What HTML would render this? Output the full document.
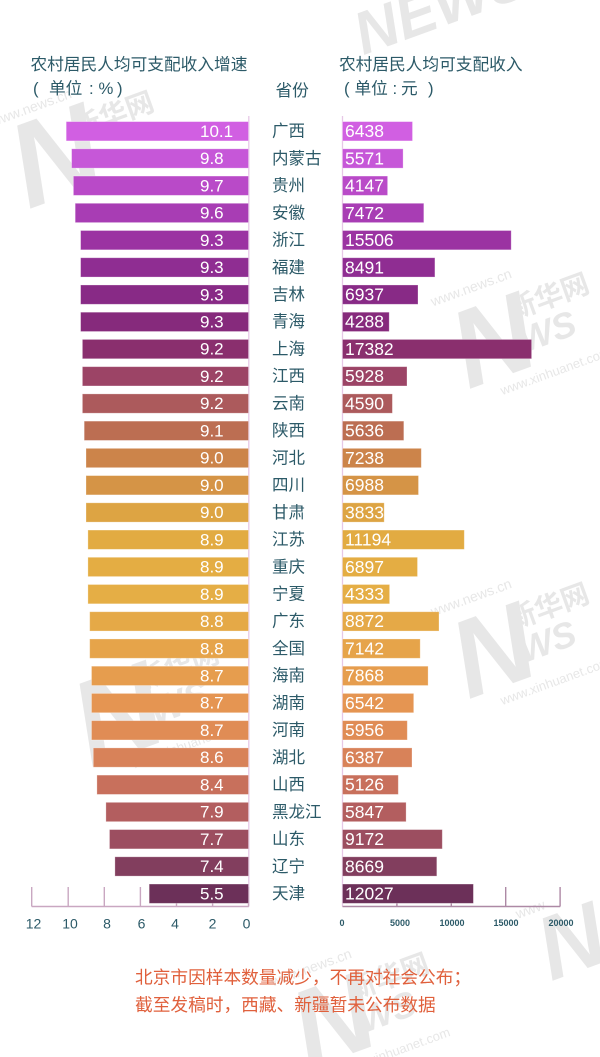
<!DOCTYPE html>
<html><head><meta charset="utf-8">
<style>
html,body{margin:0;padding:0;background:#fff;}
body{width:600px;height:1057px;overflow:hidden;}
svg{display:block;}
.v{font-family:"Liberation Sans",sans-serif;font-size:17px;fill:#fff;}
.r{font-family:"Liberation Sans",sans-serif;font-size:17.5px;fill:#fff;}
.p{font-family:"Liberation Sans","Noto Sans CJK SC",sans-serif;font-size:16.5px;fill:#2c5a68;}
.h{font-family:"Liberation Sans","Noto Sans CJK SC",sans-serif;font-size:16.7px;fill:#2c5a68;}
.t{font-family:"Liberation Sans",sans-serif;font-size:14px;fill:#2c5a68;}
.s{font-family:"Liberation Sans",sans-serif;font-size:9px;font-weight:bold;fill:#2c5a68;}
.f{font-family:"Liberation Sans","Noto Sans CJK SC",sans-serif;font-size:17.7px;fill:#e0603c;}
.wm{fill:#e7e7e7;font-family:"Liberation Sans","Noto Sans CJK SC",sans-serif;}
</style></head>
<body>
<svg width="600" height="1057" viewBox="0 0 600 1057" xmlns="http://www.w3.org/2000/svg">
<rect width="600" height="1057" fill="#fff"/>

<!-- watermarks -->
<g class="wm">
  <g transform="translate(60,150) rotate(-20)">
    <text x="-50" y="45" font-size="120" font-weight="bold" font-style="italic">N</text>
    <text x="20" y="-5" font-size="28" font-weight="bold">新华网</text>
    <text x="-55" y="-45" font-size="14">www.news.cn</text>
  </g>
  <g transform="translate(500,330) rotate(-20)">
    <text x="-50" y="45" font-size="110" font-weight="bold" font-style="italic">N</text>
    <text x="15" y="-5" font-size="28" font-weight="bold">新华网</text>
    <text x="15" y="30" font-size="36" font-weight="bold" font-style="italic">WS</text>
    <text x="-55" y="-45" font-size="14">www.news.cn</text>
    <text x="-20" y="62" font-size="13">www.xinhuanet.com</text>
  </g>
  <g transform="translate(500,640) rotate(-20)">
    <text x="-50" y="45" font-size="110" font-weight="bold" font-style="italic">N</text>
    <text x="15" y="-5" font-size="28" font-weight="bold">新华网</text>
    <text x="15" y="30" font-size="36" font-weight="bold" font-style="italic">WS</text>
    <text x="-55" y="-45" font-size="14">www.news.cn</text>
    <text x="-20" y="62" font-size="13">www.xinhuanet.com</text>
  </g>
  <g transform="translate(130,700) rotate(-20)">
    <text x="-60" y="50" font-size="120" font-weight="bold" font-style="italic">N</text>
    <text x="15" y="-5" font-size="28" font-weight="bold">新华网</text>
    <text x="15" y="32" font-size="38" font-weight="bold" font-style="italic">WS</text>
    <text x="-20" y="66" font-size="13">www.xinhuanet.com</text>
  </g>
  <g transform="translate(340,1010) rotate(-20)">
    <text x="-50" y="45" font-size="110" font-weight="bold" font-style="italic">N</text>
    <text x="15" y="-5" font-size="28" font-weight="bold">新华网</text>
    <text x="15" y="30" font-size="36" font-weight="bold" font-style="italic">WS</text>
    <text x="-55" y="-45" font-size="14">www.news.cn</text>
    <text x="-20" y="62" font-size="13">www.xinhuanet.com</text>
  </g>
  <g transform="translate(400,10) rotate(-20)">
    <text x="-50" y="30" font-size="60" font-weight="bold" font-style="italic">NEWS</text>
  </g>
  <g transform="translate(575,930) rotate(-20)">
    <text x="-40" y="40" font-size="90" font-weight="bold" font-style="italic">N</text>
    <text x="-50" y="-30" font-size="14">www</text>
  </g>
</g>

<!-- headers -->
<text class="h" x="30.5" y="70">农村居民人均可支配收入增速</text>
<text class="h" x="339" y="70">农村居民人均可支配收入</text>
<text class="h" x="33" y="94" font-family="Liberation Sans,sans-serif">(</text>
<text class="h" x="49" y="94">单位</text>
<text class="h" x="89" y="94" font-family="Liberation Sans,sans-serif">:</text>
<text class="h" x="98.5" y="94" font-family="Liberation Sans,sans-serif">%</text>
<text class="h" x="117" y="94" font-family="Liberation Sans,sans-serif">)</text>
<text class="h" x="275.5" y="96">省份</text>
<text class="h" x="344" y="94" font-family="Liberation Sans,sans-serif">(</text>
<text class="h" x="354.5" y="94" font-size="16">单位</text>
<text class="h" x="392.5" y="94" font-family="Liberation Sans,sans-serif">:</text>
<text class="h" x="401" y="94" font-size="16">元</text>
<text class="h" x="428" y="94" font-family="Liberation Sans,sans-serif">)</text>

<!-- zero vertical lines -->
<line x1="248.8" y1="116" x2="248.8" y2="906.5" stroke="#e6c8e6" stroke-width="1.3"/>
<line x1="342.5" y1="116" x2="342.5" y2="906.5" stroke="#e6c8e6" stroke-width="1.3"/>

<!-- left axis -->
<g stroke="#c9a7c1" stroke-width="1.4">
  <line x1="31.7" y1="906.5" x2="248.8" y2="906.5"/>
  <line x1="31.7" y1="887" x2="31.7" y2="906.5"/>
  <line x1="68.2" y1="887" x2="68.2" y2="906.5"/>
  <line x1="104.3" y1="887" x2="104.3" y2="906.5"/>
  <line x1="140.4" y1="887" x2="140.4" y2="906.5"/>
  <line x1="176.5" y1="887" x2="176.5" y2="906.5"/>
  <line x1="212.6" y1="887" x2="212.6" y2="906.5"/>
  <line x1="248.5" y1="887" x2="248.5" y2="906.5"/>
</g>
<!-- right axis -->
<g stroke="#ad89a5" stroke-width="1.4">
  <line x1="342.5" y1="906.5" x2="560.2" y2="906.5"/>
  <line x1="396.9" y1="887" x2="396.9" y2="906.5"/>
  <line x1="451.3" y1="887" x2="451.3" y2="906.5"/>
  <line x1="505.7" y1="887" x2="505.7" y2="906.5"/>
  <line x1="560.1" y1="887" x2="560.1" y2="906.5"/>
</g>

<!-- tick labels -->
<g class="t" text-anchor="middle">
  <text x="33.5" y="928.5">12</text>
  <text x="70" y="928.5">10</text>
  <text x="107" y="928.5">8</text>
  <text x="141.5" y="928.5">6</text>
  <text x="175" y="928.5">4</text>
  <text x="212.5" y="928.5">2</text>
  <text x="246.5" y="928.5">0</text>
</g>
<g class="s" text-anchor="middle">
  <text x="342" y="926">0</text>
  <text x="400" y="926">5000</text>
  <text x="452" y="926">10000</text>
  <text x="506" y="926">15000</text>
  <text x="561" y="926">20000</text>
</g>

<!-- rows -->
<g stroke="rgba(255,255,255,0.35)" stroke-width="0.8">
<g transform="translate(0,121.6)"><rect x="66.2" width="182.3" height="19.3" fill="#d15fe2"/><rect x="342.5" width="70.0" height="19.3" fill="#d15fe2"/></g>
<g transform="translate(0,148.83)"><rect x="71.6" width="176.9" height="19.3" fill="#c657d8"/><rect x="342.5" width="60.6" height="19.3" fill="#c657d8"/></g>
<g transform="translate(0,176.06)"><rect x="73.4" width="175.1" height="19.3" fill="#b94ac8"/><rect x="342.5" width="45.1" height="19.3" fill="#b94ac8"/></g>
<g transform="translate(0,203.29)"><rect x="75.2" width="173.3" height="19.3" fill="#a83db4"/><rect x="342.5" width="81.3" height="19.3" fill="#a83db4"/></g>
<g transform="translate(0,230.52)"><rect x="80.6" width="167.9" height="19.3" fill="#9b33a2"/><rect x="342.5" width="168.7" height="19.3" fill="#9b33a2"/></g>
<g transform="translate(0,257.75)"><rect x="80.6" width="167.9" height="19.3" fill="#8f2d92"/><rect x="342.5" width="92.4" height="19.3" fill="#8f2d92"/></g>
<g transform="translate(0,284.98)"><rect x="80.6" width="167.9" height="19.3" fill="#882a86"/><rect x="342.5" width="75.5" height="19.3" fill="#882a86"/></g>
<g transform="translate(0,312.21)"><rect x="80.6" width="167.9" height="19.3" fill="#862a7c"/><rect x="342.5" width="46.7" height="19.3" fill="#862a7c"/></g>
<g transform="translate(0,339.44)"><rect x="82.4" width="166.1" height="19.3" fill="#8a2f6e"/><rect x="342.5" width="189.1" height="19.3" fill="#8a2f6e"/></g>
<g transform="translate(0,366.67)"><rect x="82.4" width="166.1" height="19.3" fill="#9c4466"/><rect x="342.5" width="64.5" height="19.3" fill="#9c4466"/></g>
<g transform="translate(0,393.9)"><rect x="82.4" width="166.1" height="19.3" fill="#ac5a5c"/><rect x="342.5" width="49.9" height="19.3" fill="#ac5a5c"/></g>
<g transform="translate(0,421.13)"><rect x="84.2" width="164.3" height="19.3" fill="#bc6e52"/><rect x="342.5" width="61.3" height="19.3" fill="#bc6e52"/></g>
<g transform="translate(0,448.36)"><rect x="86.0" width="162.5" height="19.3" fill="#cc844a"/><rect x="342.5" width="78.8" height="19.3" fill="#cc844a"/></g>
<g transform="translate(0,475.59)"><rect x="86.0" width="162.5" height="19.3" fill="#d59446"/><rect x="342.5" width="76.0" height="19.3" fill="#d59446"/></g>
<g transform="translate(0,502.82)"><rect x="86.0" width="162.5" height="19.3" fill="#dda443"/><rect x="342.5" width="41.7" height="19.3" fill="#dda443"/></g>
<g transform="translate(0,530.05)"><rect x="87.9" width="160.6" height="19.3" fill="#e2ab42"/><rect x="342.5" width="121.8" height="19.3" fill="#e2ab42"/></g>
<g transform="translate(0,557.28)"><rect x="87.9" width="160.6" height="19.3" fill="#e4ad43"/><rect x="342.5" width="75.0" height="19.3" fill="#e4ad43"/></g>
<g transform="translate(0,584.51)"><rect x="87.9" width="160.6" height="19.3" fill="#e5ae45"/><rect x="342.5" width="47.1" height="19.3" fill="#e5ae45"/></g>
<g transform="translate(0,611.74)"><rect x="89.7" width="158.8" height="19.3" fill="#e5a947"/><rect x="342.5" width="96.5" height="19.3" fill="#e5a947"/></g>
<g transform="translate(0,638.97)"><rect x="89.7" width="158.8" height="19.3" fill="#e6a44a"/><rect x="342.5" width="77.7" height="19.3" fill="#e6a44a"/></g>
<g transform="translate(0,666.2)"><rect x="91.5" width="157.0" height="19.3" fill="#e69d4e"/><rect x="342.5" width="85.6" height="19.3" fill="#e69d4e"/></g>
<g transform="translate(0,693.43)"><rect x="91.5" width="157.0" height="19.3" fill="#e59552"/><rect x="342.5" width="71.2" height="19.3" fill="#e59552"/></g>
<g transform="translate(0,720.66)"><rect x="91.5" width="157.0" height="19.3" fill="#e08c55"/><rect x="342.5" width="64.8" height="19.3" fill="#e08c55"/></g>
<g transform="translate(0,747.89)"><rect x="93.3" width="155.2" height="19.3" fill="#d88259"/><rect x="342.5" width="69.5" height="19.3" fill="#d88259"/></g>
<g transform="translate(0,775.12)"><rect x="96.9" width="151.6" height="19.3" fill="#c8705c"/><rect x="342.5" width="55.8" height="19.3" fill="#c8705c"/></g>
<g transform="translate(0,802.35)"><rect x="105.9" width="142.6" height="19.3" fill="#b35e5f"/><rect x="342.5" width="63.6" height="19.3" fill="#b35e5f"/></g>
<g transform="translate(0,829.58)"><rect x="109.5" width="139.0" height="19.3" fill="#9c4e60"/><rect x="342.5" width="99.8" height="19.3" fill="#9c4e60"/></g>
<g transform="translate(0,856.81)"><rect x="114.9" width="133.6" height="19.3" fill="#823e5e"/><rect x="342.5" width="94.3" height="19.3" fill="#823e5e"/></g>
<g transform="translate(0,884.04)"><rect x="149.2" width="99.3" height="19.3" fill="#6c3059"/><rect x="342.5" width="130.9" height="19.3" fill="#6c3059"/></g>
</g>

<!-- row texts -->
<g>
<g transform="translate(0,121.6)"><text class="v" x="200" y="15.3">10.1</text><text class="p" x="272" y="15">广西</text><text class="r" x="345" y="15.5">6438</text></g>
<g transform="translate(0,148.83)"><text class="v" x="200" y="15.3">9.8</text><text class="p" x="272" y="15">内蒙古</text><text class="r" x="345" y="15.5">5571</text></g>
<g transform="translate(0,176.06)"><text class="v" x="200" y="15.3">9.7</text><text class="p" x="272" y="15">贵州</text><text class="r" x="345" y="15.5">4147</text></g>
<g transform="translate(0,203.29)"><text class="v" x="200" y="15.3">9.6</text><text class="p" x="272" y="15">安徽</text><text class="r" x="345" y="15.5">7472</text></g>
<g transform="translate(0,230.52)"><text class="v" x="200" y="15.3">9.3</text><text class="p" x="272" y="15">浙江</text><text class="r" x="345" y="15.5">15506</text></g>
<g transform="translate(0,257.75)"><text class="v" x="200" y="15.3">9.3</text><text class="p" x="272" y="15">福建</text><text class="r" x="345" y="15.5">8491</text></g>
<g transform="translate(0,284.98)"><text class="v" x="200" y="15.3">9.3</text><text class="p" x="272" y="15">吉林</text><text class="r" x="345" y="15.5">6937</text></g>
<g transform="translate(0,312.21)"><text class="v" x="200" y="15.3">9.3</text><text class="p" x="272" y="15">青海</text><text class="r" x="345" y="15.5">4288</text></g>
<g transform="translate(0,339.44)"><text class="v" x="200" y="15.3">9.2</text><text class="p" x="272" y="15">上海</text><text class="r" x="345" y="15.5">17382</text></g>
<g transform="translate(0,366.67)"><text class="v" x="200" y="15.3">9.2</text><text class="p" x="272" y="15">江西</text><text class="r" x="345" y="15.5">5928</text></g>
<g transform="translate(0,393.9)"><text class="v" x="200" y="15.3">9.2</text><text class="p" x="272" y="15">云南</text><text class="r" x="345" y="15.5">4590</text></g>
<g transform="translate(0,421.13)"><text class="v" x="200" y="15.3">9.1</text><text class="p" x="272" y="15">陕西</text><text class="r" x="345" y="15.5">5636</text></g>
<g transform="translate(0,448.36)"><text class="v" x="200" y="15.3">9.0</text><text class="p" x="272" y="15">河北</text><text class="r" x="345" y="15.5">7238</text></g>
<g transform="translate(0,475.59)"><text class="v" x="200" y="15.3">9.0</text><text class="p" x="272" y="15">四川</text><text class="r" x="345" y="15.5">6988</text></g>
<g transform="translate(0,502.82)"><text class="v" x="200" y="15.3">9.0</text><text class="p" x="272" y="15">甘肃</text><text class="r" x="345" y="15.5">3833</text></g>
<g transform="translate(0,530.05)"><text class="v" x="200" y="15.3">8.9</text><text class="p" x="272" y="15">江苏</text><text class="r" x="345" y="15.5">11194</text></g>
<g transform="translate(0,557.28)"><text class="v" x="200" y="15.3">8.9</text><text class="p" x="272" y="15">重庆</text><text class="r" x="345" y="15.5">6897</text></g>
<g transform="translate(0,584.51)"><text class="v" x="200" y="15.3">8.9</text><text class="p" x="272" y="15">宁夏</text><text class="r" x="345" y="15.5">4333</text></g>
<g transform="translate(0,611.74)"><text class="v" x="200" y="15.3">8.8</text><text class="p" x="272" y="15">广东</text><text class="r" x="345" y="15.5">8872</text></g>
<g transform="translate(0,638.97)"><text class="v" x="200" y="15.3">8.8</text><text class="p" x="272" y="15">全国</text><text class="r" x="345" y="15.5">7142</text></g>
<g transform="translate(0,666.2)"><text class="v" x="200" y="15.3">8.7</text><text class="p" x="272" y="15">海南</text><text class="r" x="345" y="15.5">7868</text></g>
<g transform="translate(0,693.43)"><text class="v" x="200" y="15.3">8.7</text><text class="p" x="272" y="15">湖南</text><text class="r" x="345" y="15.5">6542</text></g>
<g transform="translate(0,720.66)"><text class="v" x="200" y="15.3">8.7</text><text class="p" x="272" y="15">河南</text><text class="r" x="345" y="15.5">5956</text></g>
<g transform="translate(0,747.89)"><text class="v" x="200" y="15.3">8.6</text><text class="p" x="272" y="15">湖北</text><text class="r" x="345" y="15.5">6387</text></g>
<g transform="translate(0,775.12)"><text class="v" x="200" y="15.3">8.4</text><text class="p" x="272" y="15">山西</text><text class="r" x="345" y="15.5">5126</text></g>
<g transform="translate(0,802.35)"><text class="v" x="200" y="15.3">7.9</text><text class="p" x="272" y="15">黑龙江</text><text class="r" x="345" y="15.5">5847</text></g>
<g transform="translate(0,829.58)"><text class="v" x="200" y="15.3">7.7</text><text class="p" x="272" y="15">山东</text><text class="r" x="345" y="15.5">9172</text></g>
<g transform="translate(0,856.81)"><text class="v" x="200" y="15.3">7.4</text><text class="p" x="272" y="15">辽宁</text><text class="r" x="345" y="15.5">8669</text></g>
<g transform="translate(0,884.04)"><text class="v" x="200" y="15.3">5.5</text><text class="p" x="272" y="15">天津</text><text class="r" x="345" y="15.5">12027</text></g>
</g>

<!-- footnote -->
<text class="f" x="135" y="983.5">北京市因样本数量减少，不再对社会公布；</text>
<text class="f" x="135" y="1011">截至发稿时，西藏、新疆暂未公布数据</text>
</svg>
</body></html>
